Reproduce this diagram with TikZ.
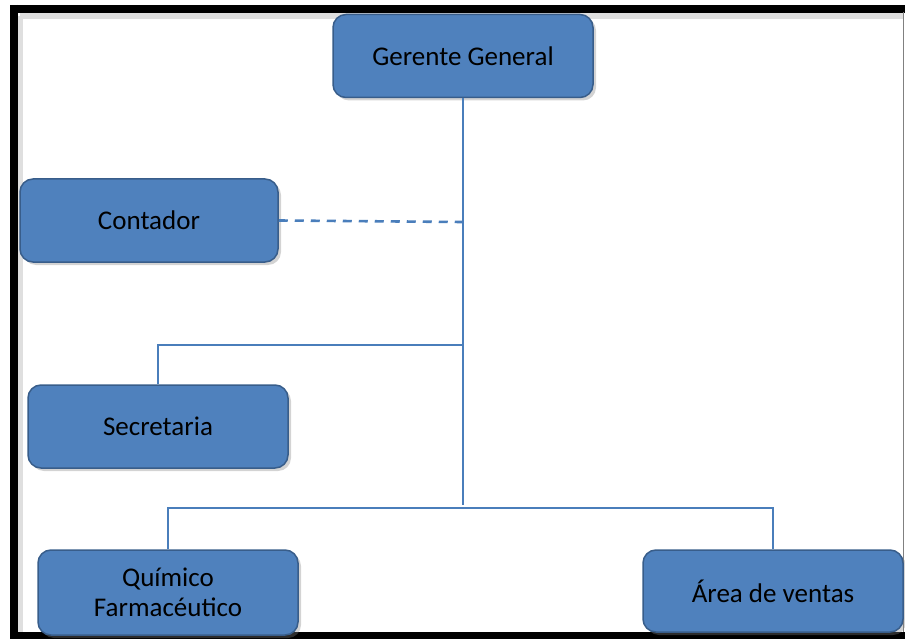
\documentclass[tikz,border=0pt]{standalone}
\usepackage{fontspec}
\setmainfont{Carlito}
\usetikzlibrary{shadows}
\definecolor{boxblue}{HTML}{4F81BD}
\definecolor{boxedge}{HTML}{385D8A}
\definecolor{linkblue}{HTML}{4A7EBB}
\begin{document}
\begin{tikzpicture}[
        x=1pt, y=-1pt,
        post/.style={rectangle, draw=boxedge, line width=1.5pt, fill=boxblue, rounded corners=13pt,
            minimum width=260pt, minimum height=83pt, align=center, font=\fontsize{27}{30}\selectfont,
            drop shadow={opacity=0.35, shadow xshift=3pt, shadow yshift=-3pt}},
        link/.style={draw=linkblue, line width=2.6pt},
        staff/.style={link, dashed, dash pattern=on 9pt off 7pt}
    ]
        \useasboundingbox (0,0) rectangle (905,639);
        % frame
        \draw[gray!25, line width=6pt] (20,16) -- (903,16);
        \draw[gray!25, line width=6pt] (20,16) -- (20,639);
        \draw[black, line width=8pt] (14,9) -- (905,9);
        \draw[black, line width=8pt] (14,5) -- (14,639);
        \draw[black, line width=8pt] (14,636) -- (905,636);
        \draw[gray, line width=1.5pt] (903.5,12) -- (903.5,632);

        \node[post] (gerente) at (463,56) {Gerente General};
        \node[post, minimum width=258pt] (contador) at (149,220.5) {Contador};
        \node[post] (secretaria) at (158,426.5) {Secretaria};
        \node[post, minimum height=85pt] (quimico) at (168,592.5) {Químico\\Farmacéutico};
        \node[post, minimum height=82pt] (ventas) at (773,591) {Área de ventas};

        \coordinate (trunk) at (463,505);
        \coordinate (advice) at (463,222);
        \coordinate (assist) at (463,345);
        \coordinate (bus) at (168,508);

        \draw[link] (gerente.south) -- (trunk);
        \draw[staff] (contador.east) -- (advice);
        \draw[link] (assist) -| (secretaria.north);
        \draw[link] (quimico.north) -- (bus) -| (ventas.north);
\end{tikzpicture}
\end{document}
